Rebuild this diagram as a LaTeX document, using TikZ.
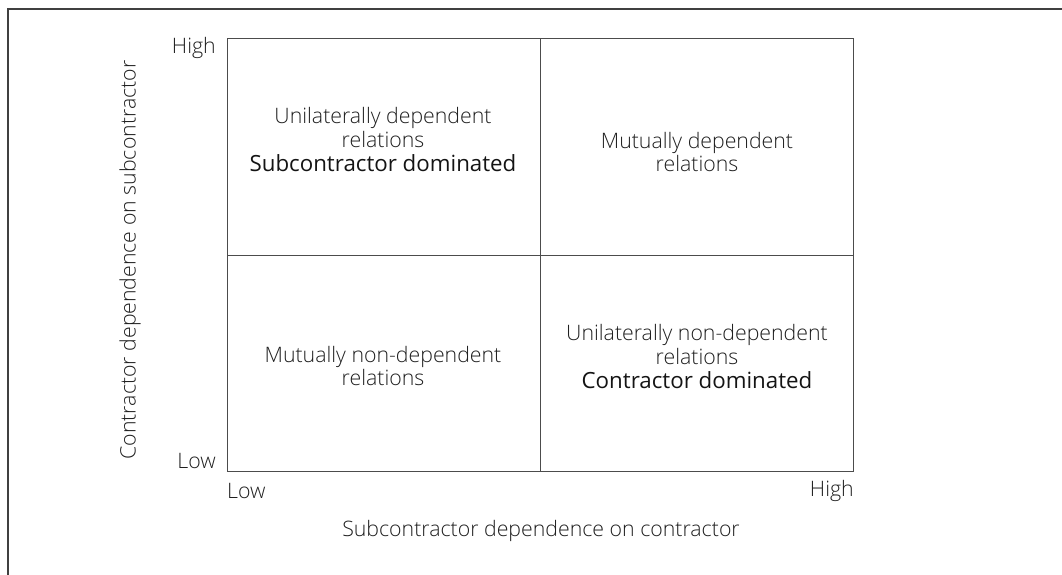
\documentclass[tikz,border=0pt]{standalone}
\usepackage{fontspec}
\setmainfont{Open Sans}
\newfontfamily\lightfont{Open Sans Light}
\newcommand\domfont{\normalfont\fontsize{22.3}{25}\selectfont\color{black!92}}
\begin{document}
\begin{tikzpicture}[x=1pt,y=-1pt,
  lbl/.style={font=\lightfont\fontsize{21.3}{23.5}\selectfont, text=black!88, inner sep=0pt},
  cell/.style={lbl, align=center},
  gridline/.style={draw=black!70, line width=1pt},
  framel/.style={draw=black!75, line width=1.4pt}]
\useasboundingbox (0,0) rectangle (1062,575);
% outer frame (top and left edges)
\coordinate (f0) at (8,575);
\coordinate (f1) at (8,9);
\coordinate (f2) at (1062,9);
\draw[framel] (f0) -- (f1) -- (f2);
% matrix
\coordinate (tl) at (227,39);
\coordinate (br) at (853,471);
\coordinate (mt) at (540,39);
\coordinate (mb) at (540,471);
\coordinate (ml) at (227,255);
\coordinate (mr) at (853,255);
\draw[gridline] (tl) rectangle (br);
\draw[gridline] (mt) -- (mb);
\draw[gridline] (ml) -- (mr);
% quadrant texts
\node[cell] (q1) at (383,140) {Unilaterally dependent\\relations\\[1pt]{\domfont Subcontractor dominated}};
\node[cell] (q2) at (697,152) {Mutually dependent\\relations};
\node[cell] (q3) at (383,366) {Mutually non-dependent\\relations};
\node[cell] (q4) at (697,357) {Unilaterally non-dependent\\relations\\[1pt]{\domfont Contractor dominated}};
% axis ends
\node[lbl, anchor=east] (yh) at (216,48) {High};
\node[lbl, anchor=east] (yl) at (216,461) {Low};
\node[lbl, anchor=west] (xl) at (227,491) {Low};
\node[lbl, anchor=east] (xh) at (854,491) {High};
% axis titles
\node[lbl] (xt) at (541,531) {Subcontractor dependence on contractor};
\node[lbl, rotate=90] (yt) at (130,260) {Contractor dependence on subcontractor};
\end{tikzpicture}
\end{document}
